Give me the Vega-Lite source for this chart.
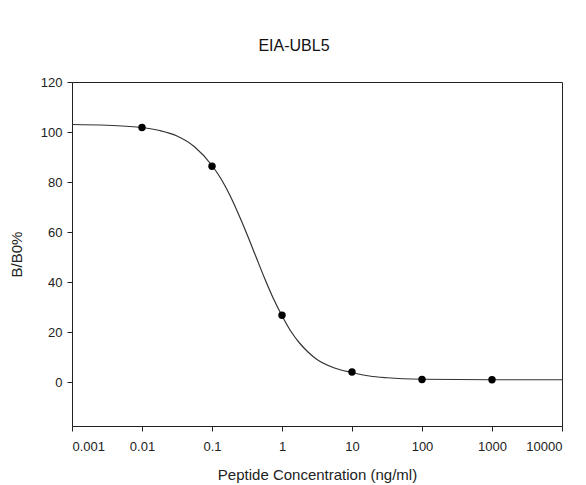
{
  "$schema": "https://vega.github.io/schema/vega-lite/v6.json",
  "width": 490,
  "height": 344,
  "autosize": {"type": "none"},
  "padding": {"left": 72, "top": 82, "right": 24, "bottom": 59},
  "background": "white",
  "title": {"text": "EIA-UBL5", "anchor": "middle", "dx": -23, "offset": 22, "font": "Liberation Sans", "fontSize": 16, "fontWeight": "normal", "color": "#111"},
  "config": {
    "view": {"stroke": "#222", "strokeWidth": 1},
    "axis": {"grid": false, "labelFont": "Liberation Sans", "titleFont": "Liberation Sans", "labelFontSize": 13, "titleFontSize": 15, "titleFontWeight": "normal", "labelColor": "#222", "titleColor": "#222", "domainColor": "#222", "tickColor": "#222", "tickSize": 5}
  },
  "datasets": {
    "curve": [
      {"conc": 0.001, "pct": 103.0},
      {"conc": 0.00316, "pct": 102.7},
      {"conc": 0.01, "pct": 101.8},
      {"conc": 0.0178, "pct": 100.6},
      {"conc": 0.0316, "pct": 98.4},
      {"conc": 0.0562, "pct": 94.1},
      {"conc": 0.1, "pct": 86.6},
      {"conc": 0.133, "pct": 81.5},
      {"conc": 0.178, "pct": 75.0},
      {"conc": 0.237, "pct": 67.4},
      {"conc": 0.316, "pct": 59.1},
      {"conc": 0.422, "pct": 50.3},
      {"conc": 0.562, "pct": 41.6},
      {"conc": 0.75, "pct": 33.5},
      {"conc": 1, "pct": 26.5},
      {"conc": 1.33, "pct": 20.4},
      {"conc": 1.78, "pct": 15.6},
      {"conc": 2.37, "pct": 11.9},
      {"conc": 3.16, "pct": 9.0},
      {"conc": 5.62, "pct": 5.6},
      {"conc": 10, "pct": 3.8},
      {"conc": 17.8, "pct": 2.4},
      {"conc": 31.6, "pct": 1.7},
      {"conc": 100, "pct": 1.1},
      {"conc": 1000, "pct": 0.9},
      {"conc": 10000, "pct": 0.9}
    ],
    "points": [
      {"conc": 0.01, "pct": 101.8},
      {"conc": 0.1, "pct": 86.3},
      {"conc": 1, "pct": 26.7},
      {"conc": 10, "pct": 4.0},
      {"conc": 100, "pct": 1.0},
      {"conc": 1000, "pct": 0.9}
    ]
  },
  "layer": [
    {
      "data": {"name": "curve"},
      "mark": {"type": "line", "color": "#333", "strokeWidth": 1.2, "interpolate": "monotone"},
      "encoding": {
        "x": {"field": "conc", "type": "quantitative", "scale": {"type": "log", "domain": [0.001, 10000], "nice": false},
              "axis": {"title": "Peptide Concentration (ng/ml)", "values": [0.001, 0.01, 0.1, 1, 10, 100, 1000, 10000], "format": "~g", "labelPadding": 9, "titlePadding": 14}},
        "y": {"field": "pct", "type": "quantitative", "scale": {"domain": [-17.6, 120], "nice": false, "zero": false},
              "axis": {"title": "B/B0%", "values": [0, 20, 40, 60, 80, 100, 120], "labelPadding": 5, "titlePadding": 16}}
      }
    },
    {
      "data": {"name": "points"},
      "mark": {"type": "point", "filled": true, "color": "#000", "size": 55, "opacity": 1},
      "encoding": {
        "x": {"field": "conc", "type": "quantitative"},
        "y": {"field": "pct", "type": "quantitative"}
      }
    }
  ]
}
